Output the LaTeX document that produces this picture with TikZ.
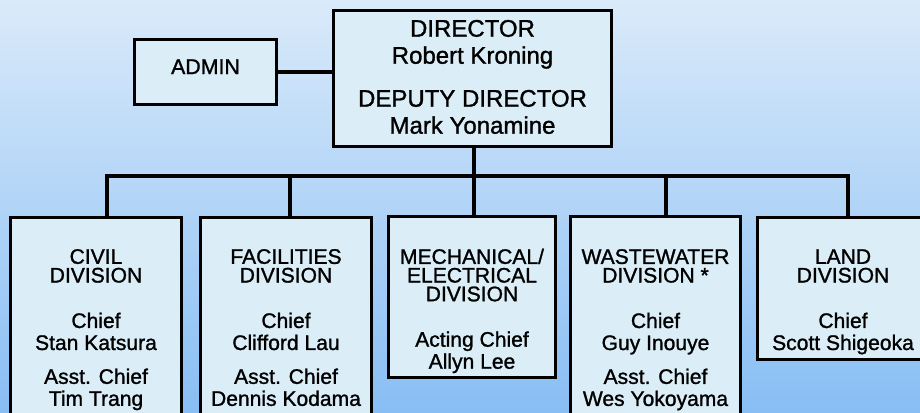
\documentclass[tikz,border=0pt]{standalone}
\usepackage{fontspec}
\setmainfont{Liberation Sans}
\newfontfamily\orgfont{Liberation Sans}[FakeBold=1.2]
\usepackage{tikz}
\usetikzlibrary{positioning}
\usetikzlibrary{calc}
\definecolor{bgtop}{RGB}{218,234,250}
\definecolor{bgbot}{RGB}{136,190,244}
\definecolor{boxfill}{RGB}{219,238,248}
\tikzset{orgbox/.style n args={3}{draw, line width=2.5pt, fill=boxfill, inner sep=0pt,
  execute at begin node={\begin{minipage}[t][#2][t]{#1}\centering\rule{0pt}{#3}},
  execute at end node={\end{minipage}}}}
\tikzset{link/.style={line width=2.5pt}}

\begin{document}
\begin{tikzpicture}[-, semithick, x=0.75pt, y=-0.75pt]
\tikzstyle{head} = [orgbox={208.5pt}{102pt}{19.9pt}, anchor=north, font=\orgfont\fontsize{18}{20.25}\selectfont]
\tikzstyle{staff} = [orgbox={106.5pt}{48.75pt}{25.9pt}, font=\orgfont\fontsize{16}{18}\selectfont]
\tikzstyle{division} = [anchor=north, font=\orgfont\fontsize{15.8}{16.5}\selectfont]

\useasboundingbox (0,0) rectangle (920,412);
\clip (0,0) rectangle (920,412);
\shade[top color=bgtop, bottom color=bgbot] (0,0) rectangle (920,412);

\node[head] (DIR) at (472.5,8.5) {DIRECTOR\\Robert Kroning\\[12pt]DEPUTY DIRECTOR\\Mark Yonamine};
\node[staff] (ADMIN) at (205.5,72) {ADMIN};

\node[division, orgbox={128.25pt}{172pt}{35pt}] (CIVIL) at (96,215.5)
   {CIVIL\\[-2.5pt]DIVISION\\[17.6pt]Chief\\Stan Katsura\\[8.9pt]Asst. Chief\\Tim Trang};
\node[division, orgbox={128.25pt}{172pt}{35pt}] (FAC) at (286,215.5)
   {FACILITIES\\[-2.5pt]DIVISION\\[17.6pt]Chief\\Clifford Lau\\[8.9pt]Asst. Chief\\Dennis Kodama};
\node[division, orgbox={125.25pt}{120.75pt}{35.8pt}] (MECH) at (472,214.5)
   {MECHANICAL/\\[-2.5pt]ELECTRICAL\\[-2.5pt]DIVISION\\[17.6pt]Acting Chief\\Allyn Lee};
\node[division, orgbox={127.5pt}{172pt}{35.8pt}] (WW) at (655.5,214.5)
   {WASTEWATER\\[-2.5pt]DIVISION *\\[17.6pt]Chief\\Guy Inouye\\[8.9pt]Asst. Chief\\Wes Yokoyama};
\node[division, orgbox={128.25pt}{106.5pt}{35pt}] (LAND) at (843,215.5)
   {LAND\\[-2.5pt]DIVISION\\[17.6pt]Chief\\Scott Shigeoka};

% connectors
\draw[link] (ADMIN.east) -- (ADMIN.east -| DIR.west);
\foreach \d/\x in {CIVIL/107, FAC/290, MECH/474, WW/666, LAND/848}
{
   \coordinate (J\d) at (\x,176);
   \draw[link] (J\d) -- (J\d |- \d.north);
}
\draw[link, line cap=rect] (JCIVIL) -- (JLAND);
\draw[link] (DIR.south -| JMECH) -- (JMECH);

\end{tikzpicture}
\end{document}
